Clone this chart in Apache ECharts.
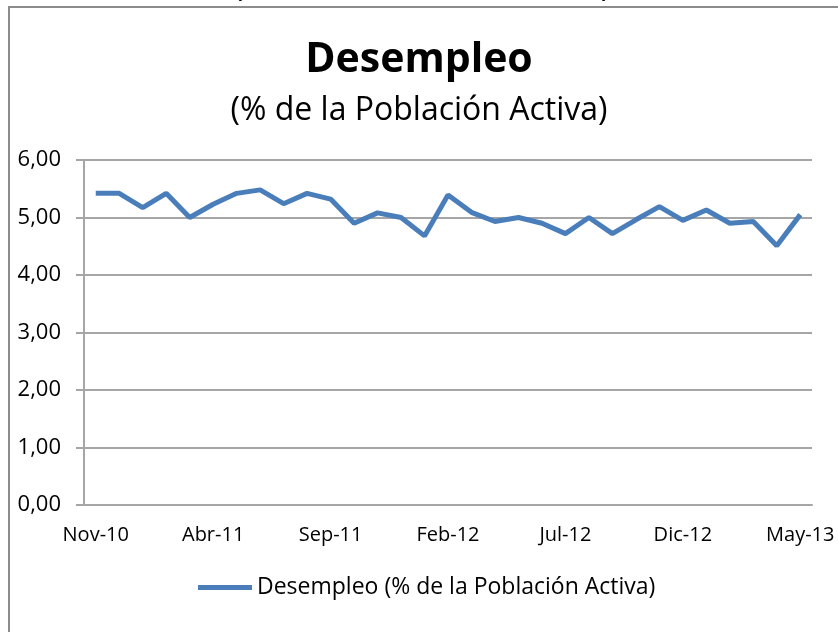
<!DOCTYPE html>
<html>
<head>
<meta charset="utf-8">
<script src="https://cdn.jsdelivr.net/npm/echarts@6/dist/echarts.min.js"></script>
<style>
  html, body { margin: 0; padding: 0; background: #fff; }
  #chart { width: 838px; height: 632px; }
</style>
</head>
<body>
<div id="chart"></div>
<script>
// meses (eje x)
const months = [
  'Nov-10', 'Dic-10', 'Ene-11', 'Feb-11', 'Mar-11', 'Abr-11', 'May-11', 'Jun-11',
  'Jul-11', 'Ago-11', 'Sep-11', 'Oct-11', 'Nov-11', 'Dic-11', 'Ene-12', 'Feb-12',
  'Mar-12', 'Abr-12', 'May-12', 'Jun-12', 'Jul-12', 'Ago-12', 'Sep-12', 'Oct-12',
  'Nov-12', 'Dic-12', 'Ene-13', 'Feb-13', 'Mar-13', 'Abr-13', 'May-13'
]
// desempleo, % de la poblacion activa
const desempleo = [
  5.42, 5.42, 5.17, 5.42, 5.00, 5.23, 5.42, 5.48, 5.24, 5.42, 5.32, 4.90, 5.08, 5.00, 4.68, 5.39,
  5.09, 4.93, 5.00, 4.90, 4.72, 5.00, 4.72, 4.96, 5.19, 4.95, 5.13, 4.90, 4.93, 4.51, 5.05
]
const seriesName = 'Desempleo (% de la Población Activa)'
const titleText = 'Desempleo'
const subtitleText = '(% de la Población Activa)'

const font = '"Open Sans", sans-serif'
const gridColor = '#a6a6a6'

const chart = echarts.init(document.getElementById('chart'))
chart.setOption({
  animation: false,
  title: [
    {
      text: titleText,
      left: 'center',
      top: 35,
      textStyle: { fontFamily: font, fontSize: 41, fontWeight: 'bold', color: '#000' }
    },
    {
      text: subtitleText,
      left: 'center',
      top: 90,
      textStyle: { fontFamily: font, fontSize: 32, fontWeight: 'normal', color: '#000' }
    }
  ],
  graphic: [
    // texto cortado arriba (solo se ven los parentesis)
    {
      type: 'text',
      x: 422,
      y: 3,
      style: {
        text: subtitleText,
        font: '32px ' + font,
        fill: '#000',
        align: 'center',
        verticalAlign: 'bottom'
      },
      silent: true
    },
    // tapa lo que queda por debajo del borde
    {
      type: 'rect',
      shape: { x: 9, y: 7, width: 900, height: 20 },
      style: { fill: '#fff' },
      silent: true
    },
    // borde del grafico
    {
      type: 'rect',
      shape: { x: 9, y: 7, width: 900, height: 700 },
      style: { fill: 'none', stroke: '#8c8c8c', lineWidth: 2 },
      silent: true
    }
  ],
  legend: {
    left: 193,
    top: 571,
    icon: 'rect',
    itemWidth: 54,
    itemHeight: 5,
    textStyle: { fontFamily: font, fontSize: 23, color: '#000' },
    data: [seriesName]
  },
  grid: { left: 84, right: 26, top: 160, bottom: 127, containLabel: false },
  xAxis: {
    type: 'category',
    data: months,
    boundaryGap: true,
    axisLine: { lineStyle: { color: gridColor, width: 2 }},
    axisTick: { interval: 4, length: 8, lineStyle: { color: gridColor, width: 2 }},
    axisLabel: { interval: 4, margin: 20, fontFamily: font, fontSize: 20, color: '#000' }
  },
  yAxis: {
    type: 'value',
    min: 0,
    max: 6,
    interval: 1,
    axisLine: { show: true, lineStyle: { color: gridColor, width: 2 }},
    axisTick: { show: true, length: 8, lineStyle: { color: gridColor, width: 2 }},
    axisLabel: {
      margin: 23,
      fontFamily: font,
      fontSize: 22,
      color: '#000',
      formatter: v => v.toFixed(2).replace('.', ',')
    },
    splitLine: { lineStyle: { color: gridColor, width: 2 }}
  },
  series: [
    {
      name: seriesName,
      type: 'line',
      data: desempleo,
      showSymbol: false,
      symbol: 'none',
      itemStyle: { color: '#4a7ebb' },
      lineStyle: { width: 5, color: '#4a7ebb' }
    }
  ]
})
</script>
</body>
</html>
